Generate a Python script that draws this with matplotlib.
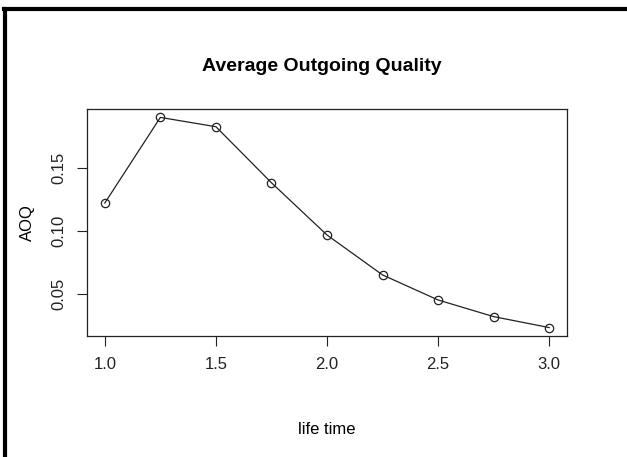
## Average Outgoing Quality curve (R base-graphics look)
import matplotlib
matplotlib.use("Agg")
import matplotlib.pyplot as plt
from matplotlib.lines import Line2D

## Data
life_time = [1.0, 1.25, 1.5, 1.75, 2.0, 2.25, 2.5, 2.75, 3.0]
aoq = [0.1222, 0.1902, 0.1828, 0.1383, 0.0968, 0.0651, 0.0452, 0.0320, 0.0233]
x_ticks = [1.0, 1.5, 2.0, 2.5, 3.0]
y_ticks = [0.05, 0.10, 0.15]

plt.rcParams['font.family'] = ['Liberation Sans', 'DejaVu Sans']

fig = plt.figure(figsize=(6.27, 4.57), dpi=100)
ax = fig.add_axes([0.1388, 0.2648, 0.7655, 0.4967])

ax.plot(life_time, aoq, color='#222222', lw=0.9, marker='o', markersize=6,
        markerfacecolor='none', markeredgecolor='#222222', markeredgewidth=0.9)

## R style 4% padding on both axes
xr = max(life_time) - min(life_time)
yr = max(aoq) - min(aoq)
ax.set_xlim(min(life_time) - 0.04 * xr, max(life_time) + 0.04 * xr)
ax.set_ylim(min(aoq) - 0.04 * yr, max(aoq) + 0.04 * yr)

ax.set_xticks(x_ticks)
ax.set_xticklabels([f"{v:.1f}" for v in x_ticks])
ax.set_yticks(y_ticks)
ax.set_yticklabels([f"{v:.2f}" for v in y_ticks], rotation=90, va='center')
ax.tick_params(axis='both', direction='out', length=7, width=0.8, labelsize=12,
               colors='#222222', pad=8)
ax.tick_params(axis='x', pad=8)
for s in ax.spines.values():
    s.set_linewidth(0.9)
    s.set_color('#222222')

ax.set_xlabel('life time', fontsize=12, labelpad=36)
ax.set_ylabel('AOQ', fontsize=12, labelpad=12)
fig.text(0.514, 0.855, 'Average Outgoing Quality', ha='center', va='center',
         fontsize=14, fontweight='bold')

## outer frame, only left and top edges visible in the reference
fig.add_artist(Line2D([0.008, 0.008], [0.0, 0.98], transform=fig.transFigure,
                      color='black', lw=3))
fig.add_artist(Line2D([0.0064, 1.0], [0.98, 0.98], transform=fig.transFigure,
                      color='black', lw=3))

fig.savefig('out.png', dpi=100)
